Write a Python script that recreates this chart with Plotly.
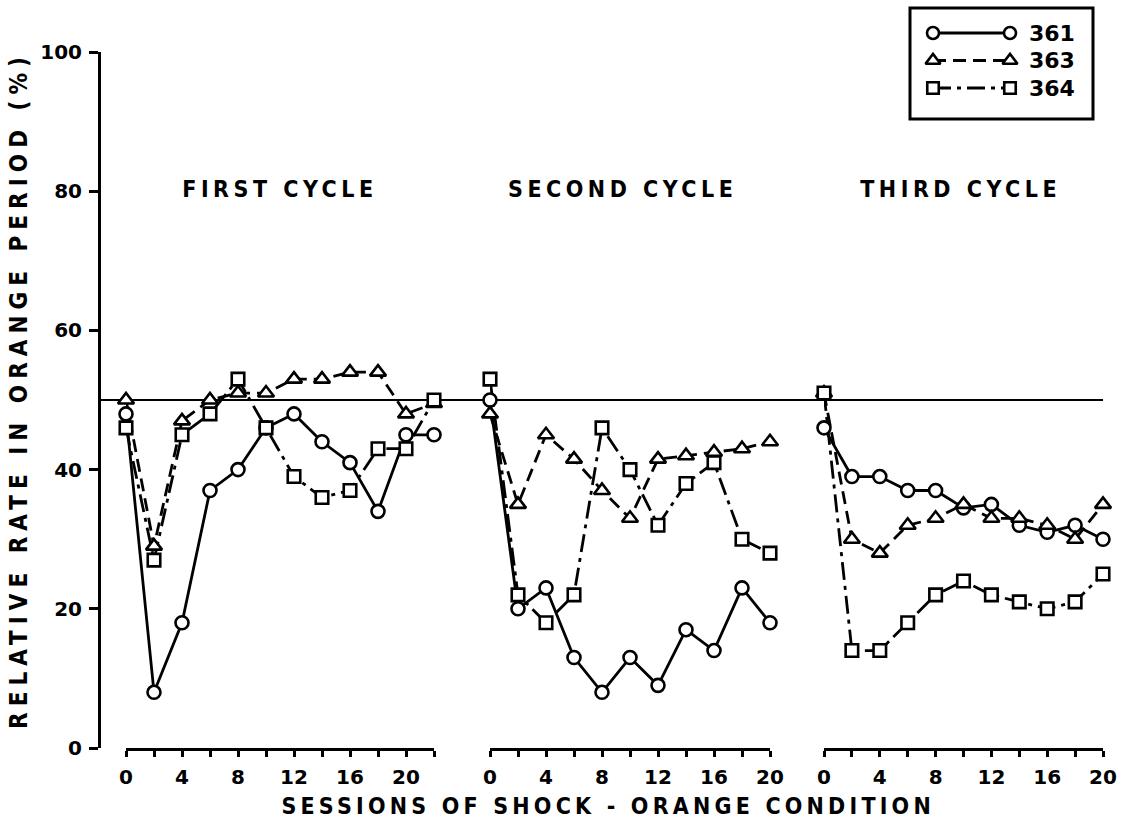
import plotly.graph_objects as go

W, H = 1128, 821

# ---------------- data ----------------
sessions_c1 = [0, 2, 4, 6, 8, 10, 12, 14, 16, 18, 20, 22]
sessions_c23 = [0, 2, 4, 6, 8, 10, 12, 14, 16, 18, 20]

s361_c1 = [48, 8, 18, 37, 40, 46, 48, 44, 41, 34, 45, 45]
s363_c1 = [50, 29, 47, 50, 51, 51, 53, 53, 54, 54, 48, 49.5]
s364_c1 = [46, 27, 45, 48, 53, 46, 39, 36, 37, 43, 43, 50]

s361_c2 = [50, 20, 23, 13, 8, 13, 9, 17, 14, 23, 18]
s363_c2 = [48, 35, 45, 41.5, 37, 33, 41.5, 42, 42.5, 43, 44]
s364_c2 = [53, 22, 18, 22, 46, 40, 32, 38, 41, 30, 28]

s361_c3 = [46, 39, 39, 37, 37, 34.5, 35, 32, 31, 32, 30]
s363_c3 = [51, 30, 28, 32, 33, 35, 33, 33, 32, 30, 35]
s364_c3 = [51, 14, 14, 18, 22, 24, 22, 21, 20, 21, 25]

cycle_labels = ["FIRST CYCLE", "SECOND CYCLE", "THIRD CYCLE"]
subject_labels = ["361", "363", "364"]
y_ticks = [0, 20, 40, 60, 80, 100]
x_ticks = [0, 4, 8, 12, 16, 20]
reference_level = 50
y_title = "RELATIVE RATE IN ORANGE PERIOD (%)"
x_title = "SESSIONS OF SHOCK - ORANGE CONDITION"

# ---------------- styles ----------------
FONT = "DejaVu Sans"
LFONT = "DejaVu Sans Condensed, DejaVu Sans"
styles = {
    "361": dict(dash="solid", symbol="circle", size=13),
    "363": dict(dash="13px,7px", symbol="triangle-up", size=14),
    "364": dict(dash="18px,6px,4px,6px", symbol="square", size=12.5),
}

def px_x(x):
    return x / W

def px_y(y):
    return 1 - y / H

cycles = [
    ("x", sessions_c1, {"361": s361_c1, "363": s363_c1, "364": s364_c1}),
    ("x2", sessions_c23, {"361": s361_c2, "363": s363_c2, "364": s364_c2}),
    ("x3", sessions_c23, {"361": s361_c3, "363": s363_c3, "364": s364_c3}),
]

fig = go.Figure()

# lines first
for xa, xs, series in cycles:
    for name in subject_labels:
        st = styles[name]
        fig.add_trace(go.Scatter(
            x=xs, y=series[name], xaxis=xa, yaxis="y", mode="lines",
            line=dict(color="black", width=2.8, dash=st["dash"]),
            showlegend=False, cliponaxis=False, hoverinfo="skip"))
# then markers on top
for xa, xs, series in cycles:
    for name in subject_labels:
        st = styles[name]
        fig.add_trace(go.Scatter(
            x=xs, y=series[name], xaxis=xa, yaxis="y", mode="markers",
            marker=dict(symbol=st["symbol"], size=st["size"], color="white",
                        line=dict(color="black", width=2.6)),
            showlegend=False, cliponaxis=False, name=name))

# custom legend (hidden axes x4 / y2)
for i, name in enumerate(subject_labels):
    st = styles[name]
    row = 3 - i
    fig.add_trace(go.Scatter(
        x=[0, 1], y=[row, row], xaxis="x4", yaxis="y2", mode="lines+markers",
        line=dict(color="black", width=2.8, dash=st["dash"]),
        marker=dict(symbol=st["symbol"], size=st["size"] - 1, color="white",
                    line=dict(color="black", width=2.6)),
        showlegend=False, cliponaxis=False, hoverinfo="skip"))

tickfont = dict(family=FONT, size=20, color="black", weight="bold")

def xaxis_cfg(domain, rng):
    return dict(
        domain=domain, range=rng, anchor="y", automargin=False,
        showline=True, linewidth=3, linecolor="black", mirror=False,
        showgrid=False, zeroline=False,
        tickmode="array", tickvals=x_ticks,
        ticks="outside", ticklen=6, tickwidth=2.5, tickcolor="black",
        minor=dict(tickmode="linear", tick0=0, dtick=2, ticks="outside",
                   ticklen=6, tickwidth=2.5, tickcolor="black", showgrid=False),
        tickfont=tickfont, ticklabelstandoff=3, fixedrange=True)

y_dom = [px_y(748), px_y(52)]

fig.update_layout(
    width=W, height=H, autosize=False,
    margin=dict(l=0, r=0, t=0, b=0, pad=0, autoexpand=False),
    paper_bgcolor="white", plot_bgcolor="white",
    showlegend=False,
    xaxis=xaxis_cfg([px_x(126), px_x(434)], [0, 22]),
    xaxis2=xaxis_cfg([px_x(490), px_x(770)], [0, 20]),
    xaxis3=xaxis_cfg([px_x(824), px_x(1103)], [0, 20]),
    yaxis=dict(
        domain=y_dom, range=[0, 100], anchor="free", position=px_x(99),
        automargin=False,
        showline=True, linewidth=3, linecolor="black",
        showgrid=False, zeroline=False,
        tickmode="array", tickvals=y_ticks,
        ticks="outside", ticklen=9, tickwidth=2.5, tickcolor="black",
        tickfont=dict(family=FONT, size=20, color="black", weight="bold"),
        ticklabelstandoff=3, fixedrange=True),
    xaxis4=dict(domain=[px_x(933), px_x(1010)], range=[0, 1], anchor="y2",
                visible=False, fixedrange=True, automargin=False),
    yaxis2=dict(domain=[px_y(101.75), px_y(19.25)], range=[0.5, 3.5],
                anchor="x4", visible=False, fixedrange=True, automargin=False),
)

# reference line at 50%
fig.add_shape(type="line", xref="paper", yref="y",
              x0=px_x(99), x1=px_x(1103), y0=reference_level, y1=reference_level,
              line=dict(color="black", width=2), layer="below")

# legend box
fig.add_shape(type="rect", xref="paper", yref="paper",
              x0=px_x(910), x1=px_x(1093), y0=px_y(119), y1=px_y(8),
              line=dict(color="black", width=3), fillcolor="rgba(0,0,0,0)")

for i, name in enumerate(subject_labels):
    fig.add_annotation(x=px_x(1027), y=3 - i, xref="paper", yref="y2",
                       text=name, showarrow=False, xanchor="left", yanchor="middle",
                       font=dict(family=FONT, size=22, color="black", weight="bold"))

# cycle labels
for lab, cx in zip(cycle_labels, [280, 622, 960]):
    fig.add_annotation(x=px_x(cx), y=px_y(189), xref="paper", yref="paper",
                       text=lab, showarrow=False, xanchor="center", yanchor="middle",
                       font=dict(family=LFONT, size=23, color="black", weight="bold"))

# axis titles
fig.add_annotation(x=px_x(19), y=px_y(390), xref="paper", yref="paper",
                   text=y_title, showarrow=False, textangle=-90,
                   xanchor="center", yanchor="middle",
                   font=dict(family=LFONT, size=24, color="black", weight="bold"))
fig.add_annotation(x=px_x(608), y=px_y(806), xref="paper", yref="paper",
                   text=x_title, showarrow=False, xanchor="center", yanchor="middle",
                   font=dict(family=LFONT, size=23, color="black", weight="bold"))

post = """
var gd = document.getElementById('{plot_id}');
var sp = {'FIRST CYCLE':'4.5px','SECOND CYCLE':'4.5px','THIRD CYCLE':'4.5px',
          'RELATIVE RATE IN ORANGE PERIOD (%)':'6px',
          'SESSIONS OF SHOCK - ORANGE CONDITION':'4.2px'};
gd.querySelectorAll('text.annotation-text').forEach(function(t){
  var v = sp[t.textContent];
  if (v) { t.style.letterSpacing = v; }
});
"""

fig.write_html("out.html", post_script=post, config={"displayModeBar": False})
